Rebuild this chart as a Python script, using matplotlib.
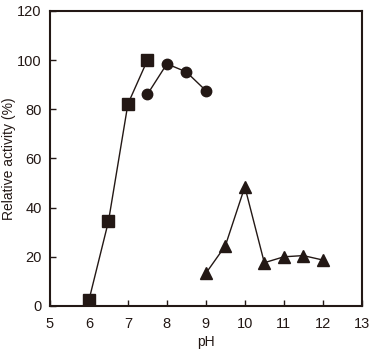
import matplotlib
matplotlib.use("Agg")
import matplotlib.pyplot as plt

# pH profiles of relative activity for three buffer systems
ph_sq = [6.0, 6.5, 7.0, 7.5]
act_sq = [2.4, 34.4, 82.2, 100.0]

ph_ci = [7.5, 8.0, 8.5, 9.0]
act_ci = [86.1, 98.5, 95.2, 87.6]

ph_tr = [9.0, 9.5, 10.0, 10.5, 11.0, 11.5, 12.0]
act_tr = [13.3, 24.5, 48.5, 17.6, 20.0, 20.5, 18.7]

x_ticks = list(range(5, 14))
y_ticks = list(range(0, 121, 20))

plt.rcParams['font.family'] = ['Liberation Sans', 'DejaVu Sans']

fig = plt.figure(figsize=(3.72, 3.58), dpi=100)
ax = fig.add_axes([0.1344, 0.1453, 0.838, 0.824])

c = "#231815"
ax.plot(ph_sq, act_sq, color=c, marker="s", markersize=8, linewidth=1)
ax.plot(ph_ci, act_ci, color=c, marker="o", markersize=7.5, linewidth=1)
ax.plot(ph_tr, act_tr, color=c, marker="^", markersize=8, linewidth=1)

ax.set_xlim(5, 13)
ax.set_ylim(0, 120)
ax.set_xticks(x_ticks)
ax.set_yticks(y_ticks)
ax.tick_params(direction="in", length=4, width=1, labelsize=10.5, colors=c)
ax.tick_params(axis="x", pad=8)
ax.tick_params(axis="y", pad=6)
for s in ax.spines.values():
    s.set_linewidth(1.5)
    s.set_color(c)

ax.set_xlabel("pH", fontsize=10, color=c, labelpad=3)
ax.set_ylabel("Relative activity (%)", fontsize=10, color=c, labelpad=1)

fig.savefig("out.png", dpi=100)
